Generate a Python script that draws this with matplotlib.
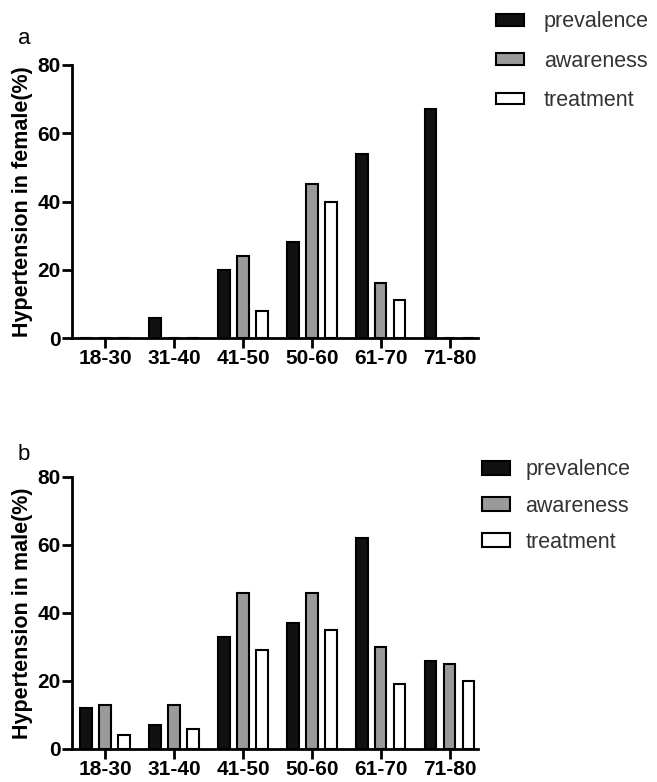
import matplotlib
matplotlib.use("Agg")
import matplotlib.pyplot as plt
import numpy as np

plt.rcParams['font.family'] = ['Liberation Sans', 'DejaVu Sans']

age_groups = ["18-30", "31-40", "41-50", "50-60", "61-70", "71-80"]
series_names = ["prevalence", "awareness", "treatment"]

female_prevalence = [0, 6, 20, 28, 54, 67]
female_awareness = [0, 0, 24, 45, 16, 0]
female_treatment = [0, 0, 8, 40, 11, 0]

male_prevalence = [12, 7, 33, 37, 62, 26]
male_awareness = [13, 13, 46, 46, 30, 25]
male_treatment = [4, 6, 29, 35, 19, 20]

yticks = [0, 20, 40, 60, 80]

colors = ["#111111", "#9a9a9a", "#ffffff"]

W, H = 657, 782
fig = plt.figure(figsize=(W / 100, H / 100), dpi=100)


def ax_rect(l, t, r, b):
    return [l / W, 1 - b / H, (r - l) / W, (b - t) / H]


ax1 = fig.add_axes(ax_rect(72, 65, 478, 338))
ax2 = fig.add_axes(ax_rect(72, 477, 478, 749))

x = np.arange(len(age_groups))
off = 0.275
bw = 0.165


def draw(ax, data, ylabel):
    handles = []
    for i, (vals, c, name) in enumerate(zip(data, colors, series_names)):
        h = ax.bar(x + (i - 1) * off, vals, width=bw, color=c, edgecolor="black",
                   linewidth=1.5, label=name)
        handles.append(h)
    ax.set_xlim(-0.48, 5.41)
    ax.set_ylim(0, 80)
    ax.set_yticks(yticks)
    ax.set_xticks(x)
    ax.set_xticklabels(age_groups)
    for s in ["top", "right"]:
        ax.spines[s].set_visible(False)
    for s in ["left", "bottom"]:
        ax.spines[s].set_linewidth(2)
    ax.tick_params(axis="both", direction="out", width=2, labelsize=15)
    ax.tick_params(axis="x", length=7, pad=1)
    ax.tick_params(axis="y", length=7, pad=1)
    for lab in ax.get_xticklabels() + ax.get_yticklabels():
        lab.set_fontweight("bold")
    ax.set_ylabel(ylabel, fontsize=15.5, fontweight="bold", labelpad=3)
    return handles


h1 = draw(ax1, [female_prevalence, female_awareness, female_treatment],
          "Hypertension in female(%)")
h2 = draw(ax2, [male_prevalence, male_awareness, male_treatment],
          "Hypertension in male(%)")

fig.text(24 / W, 1 - 38 / H, "a", fontsize=16, ha="center", va="center")
fig.text(24 / W, 1 - 455 / H, "b", fontsize=16, ha="center", va="center")

leg1 = fig.legend(handles=h1, labels=series_names, loc="upper left",
                  bbox_to_anchor=(490 / W, 1 - 5 / H), frameon=False,
                  fontsize=15.5, handlelength=1.3, handleheight=0.45,
                  handletextpad=0.9, labelspacing=0.85, labelcolor="#333333",
                  borderaxespad=0, borderpad=0.3)
leg2 = fig.legend(handles=h2, labels=series_names, loc="upper left",
                  bbox_to_anchor=(476 / W, 1 - 453 / H), frameon=False,
                  fontsize=15.5, handlelength=1.3, handleheight=0.6,
                  handletextpad=0.7, labelspacing=0.7, labelcolor="#333333",
                  borderaxespad=0, borderpad=0.3)

fig.savefig("out.png", dpi=100)
